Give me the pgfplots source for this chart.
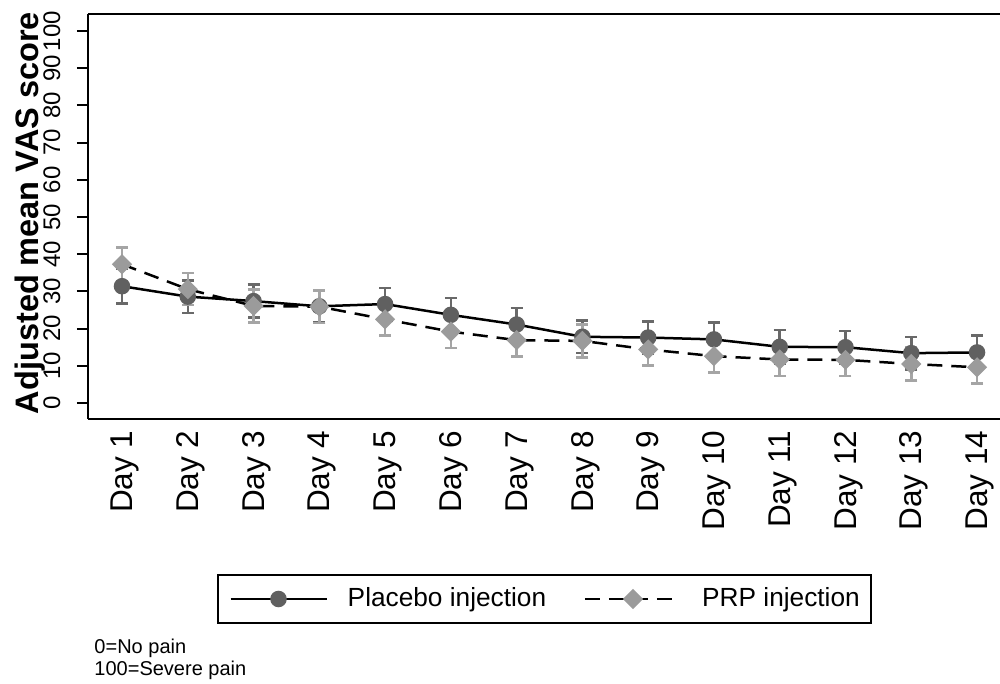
\documentclass[border=0pt]{standalone}
\usepackage{fontspec}
\setmainfont{Liberation Sans}
\usepackage{pgfplots}
\usepackage{pgfplotstable}
\pgfplotsset{compat=1.18}
\definecolor{plc}{RGB}{96,96,96}
\definecolor{prc}{RGB}{155,155,155}
\definecolor{plerr}{RGB}{105,105,105}
\definecolor{prerr}{RGB}{165,165,165}

\pgfplotstableread{
x y e
1 31.4 4.6
2 28.6 4.4
3 27.4 4.4
4 26.0 4.4
5 26.6 4.3
6 23.7 4.5
7 21.1 4.5
8 17.8 4.4
9 17.6 4.3
10 17.1 4.5
11 15.1 4.5
12 15.0 4.4
13 13.4 4.4
14 13.6 4.5
}\placebo

\pgfplotstableread{
x y e
1 37.3 4.5
2 30.6 4.3
3 26.1 4.4
4 25.9 4.4
5 22.5 4.4
6 19.2 4.4
7 16.9 4.4
8 16.7 4.4
9 14.4 4.3
10 12.6 4.4
11 11.7 4.4
12 11.6 4.4
13 10.5 4.4
14 9.6 4.3
}\prp

\begin{document}
\begin{tikzpicture}
\useasboundingbox (0pt,0pt) rectangle (400pt,-273.6pt);
\begin{axis}[
  at={(35.2pt,-167.6pt)}, anchor=south west,
  scale only axis, width=364.64pt, height=162pt,
  xmin=0.483, xmax=14.343, ymin=-4.3, ymax=104.57,
  axis x line*=box, axis y line*=left,
  axis line style={-, line width=0.8pt, black},
  xtick={1,...,14},
  xticklabels={Day 1,Day 2,Day 3,Day 4,Day 5,Day 6,Day 7,Day 8,Day 9,Day 10,Day 11,Day 12,Day 13,Day 14},
  x tick style={draw=none},
  xticklabel style={xshift=1.2pt, rotate=90, anchor=east, inner sep=0pt, font=\fontsize{12.6}{15}\selectfont},
  ytick={0,10,...,100},
  y tick style={line width=0.8pt, black},
  tick align=outside, major tick length=4.4pt,
  yticklabel style={xshift=-6.5pt, rotate=90, anchor=south, inner sep=0pt, font=\fontsize{9.6}{11}\selectfont},
  /pgf/number format/assume math mode=true,
  ylabel={Adjusted mean VAS score},
  ylabel style={at={(axis description cs:-0.0545,0.5086)}, anchor=base, font=\bfseries\fontsize{13}{15}\selectfont},
  legend columns=2,
  legend cell align=left,
  legend style={at={(0.5008,-0.4444)}, anchor=center, draw=black, line width=0.6pt,
    font=\fontsize{10.5}{12}\selectfont, inner xsep=4.4pt, inner ysep=5pt,
    nodes={inner sep=0pt, anchor=west},
    /tikz/every odd column/.append style={column sep=8pt},
    /tikz/every even column/.append style={column sep=15pt}},
  legend image code/.code={\draw[mark repeat=2,mark phase=2] plot coordinates {(0pt,0pt) (19.2pt,0pt) (38.4pt,0pt)};},
]
\addplot[forget plot, draw=none, mark=none,
  error bars/.cd, y dir=both, y explicit,
  error bar style={draw=plerr, line width=1pt, solid},
  error mark options={draw=plerr, line width=1pt, mark size=2.4pt, rotate=90}]
  table[x=x, y=y, y error=e]{\placebo};
\addplot[forget plot, draw=none, mark=none,
  error bars/.cd, y dir=both, y explicit,
  error bar style={draw=prerr, line width=1pt, solid},
  error mark options={draw=prerr, line width=1pt, mark size=2.4pt, rotate=90}]
  table[x=x, y=y, y error=e]{\prp};
\addplot[black, line width=1pt, mark=*, mark size=2.8pt,
  mark options={fill=plc, draw=plc, solid}]
  table[x=x, y=y]{\placebo};
\addplot[black, line width=1pt, dash pattern=on 6pt off 3.6pt, mark=square*, mark size=2.35pt,
  mark options={fill=prc, draw=prc, solid, rotate=45}]
  table[x=x, y=y]{\prp};
\legend{Placebo injection, PRP injection}
\end{axis}
\node[anchor=base west, inner sep=0pt, font=\fontsize{8}{9.6}\selectfont] at (37.6pt,-261.3pt) {0=No pain};
\node[anchor=base west, inner sep=0pt, font=\fontsize{8}{9.6}\selectfont] at (37.6pt,-270pt) {100=Severe pain};
\end{tikzpicture}
\end{document}
